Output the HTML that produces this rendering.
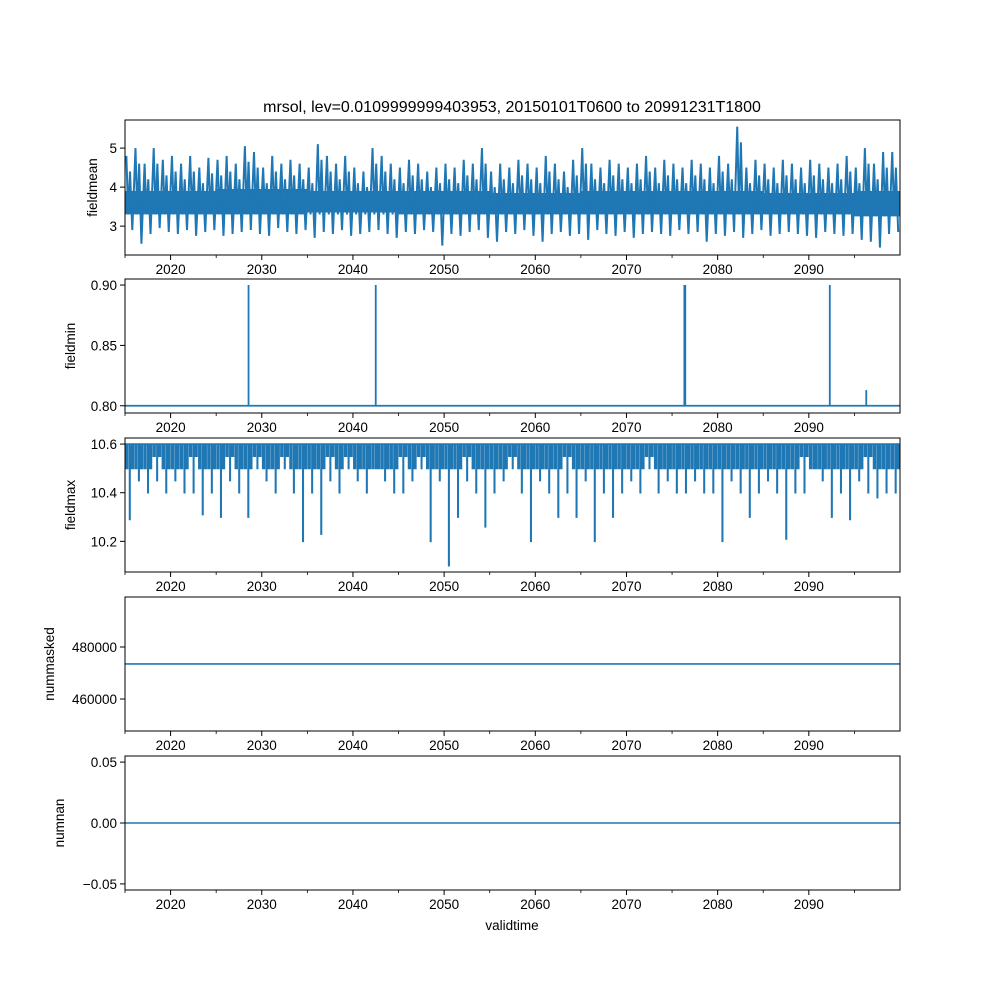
<!DOCTYPE html>
<html><head><meta charset="utf-8"><style>
html,body{margin:0;padding:0;background:#fff;}
svg{display:block;font-family:"Liberation Sans","DejaVu Sans",sans-serif;}
</style></head><body>
<svg id="fig" width="1000" height="1000" viewBox="0 0 1000 1000"></svg>
<script>
const years=[];for(let y=2015;y<=2099;y++)years.push(y);
const meanMax=[4.8,5.0,4.6,5.0,4.7,4.8,4.6,4.8,4.5,4.75,4.7,4.8,4.6,5.05,4.9,4.5,4.8,4.6,4.7,4.6,4.5,5.1,4.8,4.6,4.8,4.5,4.4,5.0,4.8,4.6,4.5,4.7,4.6,4.4,4.5,4.6,4.5,4.7,4.6,5.0,4.4,4.6,4.5,4.7,4.6,4.5,4.8,4.6,4.4,4.7,5.0,4.6,4.5,4.7,4.6,4.5,4.6,4.8,4.5,4.7,4.6,4.5,4.7,4.6,4.5,4.8,4.6,5.55,4.5,4.7,4.6,4.5,4.7,4.6,4.5,4.7,4.6,4.5,4.6,4.8,4.5,5.0,4.6,4.9,4.9];
const meanMin=[2.9,2.55,2.8,2.95,2.85,2.8,2.9,2.75,2.85,2.9,2.75,2.8,2.85,2.9,2.8,2.75,2.95,2.85,2.8,2.9,2.7,2.85,2.8,2.9,2.75,2.8,2.85,2.9,2.8,2.7,2.85,2.8,2.9,2.85,2.5,2.8,2.75,2.85,2.9,2.7,2.6,2.85,2.8,2.9,2.75,2.6,2.8,2.85,2.75,2.8,2.65,2.9,2.8,2.75,2.85,2.7,2.8,2.85,2.8,2.75,2.9,2.8,2.85,2.6,2.8,2.75,2.85,2.7,2.8,2.9,2.75,2.8,2.85,2.8,2.75,2.7,2.85,2.8,2.75,2.8,2.65,2.6,2.45,2.8,2.85];
const bandHi=[3.9,3.95,3.9,3.9,3.85,3.9,3.9,3.85,3.9];
const bandLo=[3.3,3.3,3.35,3.3,3.3,3.3,3.3,3.3,3.25];
const minSpikeT=[2028.55,2042.5,2076.35,2076.45,2092.3,2096.3];
const minSpikeV=[0.9,0.9,0.9,0.9,0.9,0.813];
const maxDip=[10.29,10.45,10.4,10.45,10.4,10.45,10.4,10.4,10.31,10.4,10.3,10.45,10.4,10.3,10.5,10.45,10.4,10.5,10.4,10.2,10.4,10.23,10.45,10.4,10.5,10.45,10.4,10.5,10.45,10.4,10.4,10.45,10.5,10.2,10.45,10.1,10.3,10.45,10.4,10.26,10.4,10.45,10.5,10.4,10.2,10.45,10.4,10.3,10.4,10.3,10.45,10.2,10.4,10.3,10.4,10.45,10.4,10.5,10.4,10.45,10.4,10.4,10.45,10.4,10.4,10.2,10.45,10.4,10.3,10.4,10.45,10.4,10.21,10.4,10.4,10.5,10.45,10.3,10.4,10.29,10.45,10.4,10.38,10.4,10.4];
const maxSec=[10.5,10.5,10.5,10.55,10.5,10.5,10.5,10.55,10.5,10.5,10.5,10.55,10.5,10.5,10.55,10.5,10.5,10.55,10.5,10.5,10.5,10.5,10.55,10.5,10.55,10.5,10.5,10.5,10.5,10.5,10.55,10.5,10.55,10.5,10.5,10.5,10.5,10.55,10.5,10.5,10.5,10.5,10.55,10.5,10.5,10.5,10.5,10.5,10.55,10.5,10.5,10.5,10.5,10.5,10.5,10.5,10.5,10.55,10.5,10.5,10.5,10.5,10.5,10.5,10.5,10.5,10.5,10.5,10.5,10.5,10.5,10.5,10.5,10.5,10.55,10.5,10.5,10.5,10.5,10.5,10.5,10.55,10.5,10.5,10.5];
const nummaskedVal=473500;
const numnanVal=0;
const xTicks=[2020,2030,2040,2050,2060,2070,2080,2090];
const xMinor=[2015,2025,2035,2045,2055,2065,2075,2085,2095];

const NS="http://www.w3.org/2000/svg";
const svg=document.getElementById('fig');
const C="#1f77b4";
const L=125,R=900;
const X=t=>L+(t-2015)/85*(R-L);
function el(tag,attrs,parent){const e=document.createElementNS(NS,tag);for(const k in attrs)e.setAttribute(k,attrs[k]);(parent||svg).appendChild(e);return e;}
const panels=[
 {name:'fieldmean',top:120,bot:255,lo:2.26,hi:5.72,ticks:[3,4,5],fmt:v=>String(v)},
 {name:'fieldmin',top:279,bot:413,lo:0.794,hi:0.905,ticks:[0.8,0.85,0.9],fmt:v=>v.toFixed(2)},
 {name:'fieldmax',top:438,bot:572,lo:10.074,hi:10.625,ticks:[10.2,10.4,10.6],fmt:v=>v.toFixed(1)},
 {name:'nummasked',top:597,bot:731,lo:447700,hi:499230,ticks:[460000,480000],fmt:v=>String(v)},
 {name:'numnan',top:756,bot:890,lo:-0.055,hi:0.055,ticks:[-0.05,0,0.05],fmt:v=>(v<0?'\u2212':'')+Math.abs(v).toFixed(2)}
];
panels.forEach((p,i)=>{
 const Y=v=>p.bot-(v-p.lo)/(p.hi-p.lo)*(p.bot-p.top);
 p.Y=Y;
 const g=el('g',{});
 
 
 const cp=el('clipPath',{id:'cp'+i},g);
 el('rect',{x:L,y:p.top,width:R-L,height:p.bot-p.top},cp);
 const dg=el('g',{'clip-path':'url(#cp'+i+')'},g);
 
 
 if(i===0){
  let pts=[];
  for(let d=0;d<9;d++){const t0=2015+d*10,t1=Math.min(2100,t0+10);pts.push([X(t0),Y(bandHi[d])],[X(t1),Y(bandHi[d])]);}
  let lo=[];
  for(let d=8;d>=0;d--){const t0=2015+d*10,t1=Math.min(2100,t0+10);lo.push([X(t1),Y(bandLo[d])],[X(t0),Y(bandLo[d])]);}
  const band=el('polygon',{points:pts.concat(lo).map(q=>q.join(',')).join(' '),fill:C},dg);
  
  
  let s=[];
  years.forEach((y,k)=>{s.push([X(y+0.15),Y(meanMax[k])],[X(y+0.35),Y(3.3)],[X(y+0.55),Y(meanMax[k]-0.4)],[X(y+0.8),Y(meanMin[k])]);});
  const ln=el('polyline',{points:s.map(q=>q.join(',')).join(' '),fill:'none',stroke:C,'stroke-width':2},dg);
  
  
 } else if(i===1){
  let s=[[X(2015),Y(0.8)]];
  minSpikeT.forEach((t,k)=>{s.push([X(t),Y(0.8)],[X(t),Y(minSpikeV[k])],[X(t),Y(0.8)]);});
  s.push([X(2100),Y(0.8)]);
  const ln=el('polyline',{points:s.map(q=>q.join(',')).join(' '),fill:'none',stroke:C,'stroke-width':1.8},dg);
  
  
 } else if(i===2){
  let s=[[X(2015),Y(10.6)]];
  years.forEach((y,k)=>{
   [0.1,0.25,0.5,0.7,0.85].forEach((f,j)=>{const v=j===2?maxDip[k]:maxSec[k];s.push([X(y+f),Y(10.6)],[X(y+f),Y(v)],[X(y+f+0.05),Y(v)],[X(y+f+0.05),Y(10.6)]);});
  });
  s.push([X(2100),Y(10.6)]);
  const ln=el('polyline',{points:s.map(q=>q.join(',')).join(' '),fill:'none',stroke:C,'stroke-width':1.6},dg);
  
  
 } else {
  const v=i===3?nummaskedVal:numnanVal;
  const ln=el('line',{x1:L,x2:R,y1:Y(v),y2:Y(v),stroke:C,'stroke-width':1.6},dg);
  
  
 }
 const fr=el('rect',{x:L,y:p.top,width:R-L,height:p.bot-p.top,fill:'none',stroke:'#000','stroke-width':1},g);
 
 
 p.ticks.forEach(v=>{
  const yy=Y(v);
  el('line',{x1:L-5,x2:L,y1:yy,y2:yy,stroke:'#000','stroke-width':1},g);
  const t=el('text',{x:L-8,y:yy+5,'text-anchor':'end','font-size':13.5},g);
  t.textContent=p.fmt(v);
  
  
 });
 xTicks.forEach(v=>{
  el('line',{x1:X(v),x2:X(v),y1:p.bot,y2:p.bot+5,stroke:'#000','stroke-width':1},g);
  const t=el('text',{x:X(v),y:p.bot+19,'text-anchor':'middle','font-size':13.5},g);
  t.textContent=String(v);
  
  
 });
 xMinor.forEach(v=>{el('line',{x1:X(v),x2:X(v),y1:p.bot,y2:p.bot+3,stroke:'#000','stroke-width':0.8},g);});
 const yl=el('text',{x:0,y:0,'text-anchor':'middle','font-size':13.5,transform:`translate(${i===0?97:i===1?75:i===2?75:i===3?54:64},${(p.top+p.bot)/2}) rotate(-90)`},g);
 yl.textContent=p.name;
 
 
});
const title=el('text',{x:512,y:112,'text-anchor':'middle','font-size':16});
title.textContent='mrsol, lev=0.0109999999403953, 20150101T0600 to 20991231T1800';


const xl=el('text',{x:512,y:930,'text-anchor':'middle','font-size':13.5});
xl.textContent='validtime';


</script>
</body></html>
